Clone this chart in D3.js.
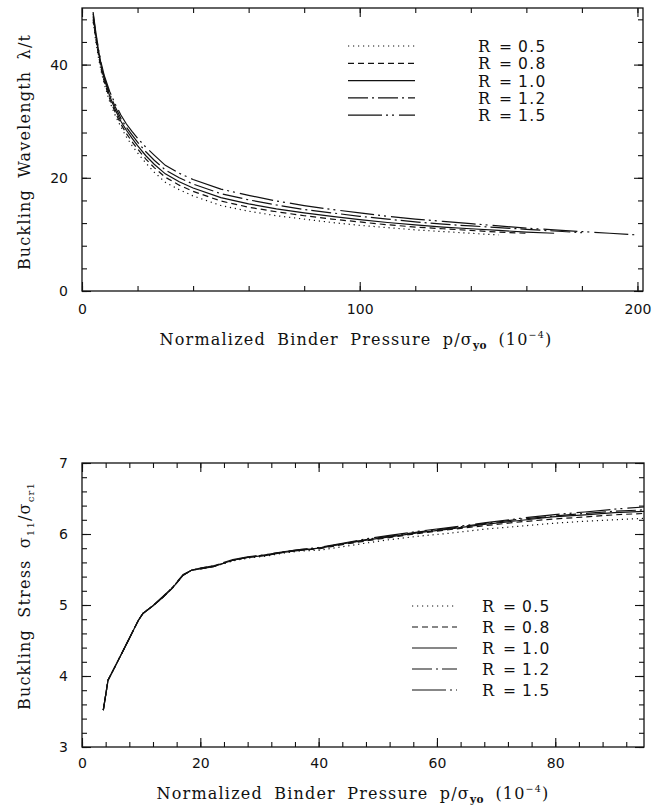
<!DOCTYPE html>
<html><head><meta charset="utf-8">
<script src="https://cdn.jsdelivr.net/npm/d3@7"></script>
<style>
body{margin:0;background:#fff}
svg text{fill:#111}
.ttl{font-family:"DejaVu Serif",serif;font-size:16px;letter-spacing:1.2px;word-spacing:5px}
.num{font-family:"DejaVu Sans",sans-serif;font-size:14px}
.leg{font-family:"DejaVu Sans",sans-serif;font-size:15.5px;letter-spacing:1.3px}
</style>
</head><body>
<svg id="fig" width="656" height="810"></svg>
<script>
// ---- series labels and line styles ----
const ratioLabels = ["0.5", "0.8", "1.0", "1.2", "1.5"];
const dashStyles = ["1.2,3.8", "6,4", null, "20,4,2,4", "34,4,2,4,2,5"];

// ---- panel (a): buckling wavelength vs binder pressure ----
const waveP = [4,5,6,7,8,10,12,14,16,18,20,23,26,30,35,40,50,60,70,80,90,100,110,120,130,140,150,160,170,180,190,200];
const waveR05 = [47.5,44,41,38.6,36.6,33.4,31.0,29.0,27.2,25.7,24.4,22.6,21.0,19.2,17.9,16.8,15.1,14.1,13.3,12.7,12.1,11.6,11.2,10.8,10.5,10.2,9.9];
const waveR08 = [48,44.5,41.5,39,37,33.9,31.5,29.5,27.8,26.4,25.1,23.3,21.8,20.1,18.7,17.6,15.9,14.8,14.0,13.3,12.7,12.2,11.7,11.3,11.0,10.7,10.4,10.2];
const waveR10 = [48.5,45,42,39.5,37.5,34.4,32.0,30.0,28.4,27.0,25.7,23.9,22.4,20.7,19.3,18.2,16.5,15.4,14.5,13.8,13.2,12.6,12.1,11.7,11.3,11.0,10.7,10.4,10.2];
const waveR12 = [49,45.3,42.3,39.8,37.8,34.8,32.5,30.5,28.9,27.6,26.3,24.6,23.1,21.4,20.0,18.9,17.2,16.1,15.2,14.4,13.8,13.2,12.7,12.2,11.8,11.5,11.2,10.9,10.6,10.3];
const waveR15 = [49.3,45.6,42.6,40.1,38.1,35.2,33.0,31.1,29.5,28.2,27.0,25.4,24.0,22.2,20.8,19.7,18.0,16.9,15.9,15.1,14.4,13.8,13.2,12.7,12.3,11.9,11.5,11.1,10.8,10.5,10.2,9.9];
const waveTicks = [0, 100, 200];
const waveYTicks = [0, 20, 40];

// ---- panel (b): buckling stress vs binder pressure ----
const stressP = [3.6,4.4,6,8,9.5,10.3,12,13.7,15.4,17.1,18.5,20,22.2,25.5,28,31.2,34,36.8,40,44,48.6,52,57,62,68.3,74,79.5,85,90,95];
const stressR05 = [3.52,3.94,4.20,4.53,4.78,4.88,4.99,5.11,5.25,5.42,5.49,5.51,5.54,5.62,5.66,5.69,5.73,5.76,5.77,5.82,5.88,5.92,5.97,6.01,6.07,6.11,6.15,6.18,6.20,6.22];
const stressR08 = [3.52,3.94,4.20,4.53,4.78,4.88,4.99,5.11,5.25,5.42,5.49,5.51,5.54,5.63,5.67,5.70,5.74,5.77,5.79,5.85,5.91,5.95,6.01,6.06,6.12,6.17,6.21,6.24,6.27,6.29];
const stressR10 = [3.52,3.94,4.20,4.53,4.78,4.88,4.99,5.11,5.25,5.42,5.49,5.51,5.54,5.63,5.67,5.70,5.74,5.77,5.80,5.86,5.92,5.96,6.02,6.07,6.14,6.19,6.24,6.27,6.30,6.32];
const stressR12 = [3.52,3.94,4.20,4.53,4.78,4.88,4.99,5.12,5.26,5.42,5.49,5.52,5.55,5.63,5.67,5.71,5.75,5.78,5.80,5.86,5.93,5.97,6.03,6.08,6.15,6.21,6.25,6.29,6.32,6.34];
const stressR15 = [3.52,3.94,4.20,4.53,4.78,4.88,4.99,5.12,5.26,5.43,5.49,5.52,5.55,5.64,5.68,5.71,5.75,5.78,5.81,5.87,5.94,5.98,6.04,6.09,6.16,6.22,6.27,6.31,6.35,6.38];
const stressTicks = [0, 20, 40, 60, 80];
const stressYTicks = [3, 4, 5, 6, 7];

const svg = d3.select("#fig");

function drawPanel(cfg) {
  const x = d3.scaleLinear().domain(cfg.xDomain).range([cfg.left, cfg.right]);
  const y = d3.scaleLinear().domain(cfg.yDomain).range([cfg.bottom, cfg.top]);
  const g = svg.append("g");
  const axisStyle = sel => {
    sel.select(".domain").remove();
    sel.selectAll("line").attr("stroke", "#111").attr("stroke-width", 1.1);
    sel.selectAll("text").attr("class", "num").attr("font-size", null).attr("font-family", null);
  };
  const minorX = d3.range(cfg.xDomain[0], cfg.xDomain[1] + 1e-9, cfg.xMinor);
  const minorY = d3.range(cfg.yDomain[0], cfg.yDomain[1] + 1e-9, cfg.yMinor);
  // minor ticks, all four sides, pointing inward
  g.append("g").attr("transform", `translate(0,${cfg.bottom})`)
    .call(d3.axisBottom(x).tickValues(minorX).tickSize(-5).tickFormat("")).call(axisStyle);
  g.append("g").attr("transform", `translate(0,${cfg.top})`)
    .call(d3.axisTop(x).tickValues(minorX).tickSize(-5).tickFormat("")).call(axisStyle);
  g.append("g").attr("transform", `translate(${cfg.left},0)`)
    .call(d3.axisLeft(y).tickValues(minorY).tickSize(-5).tickFormat("")).call(axisStyle);
  g.append("g").attr("transform", `translate(${cfg.right},0)`)
    .call(d3.axisRight(y).tickValues(minorY).tickSize(-5).tickFormat("")).call(axisStyle);
  // major ticks with labels
  g.append("g").attr("transform", `translate(0,${cfg.bottom})`)
    .call(d3.axisBottom(x).tickValues(cfg.xTicks).tickSizeInner(-9).tickSizeOuter(0).tickPadding(cfg.xPad).tickFormat(d3.format("d")))
    .call(axisStyle);
  g.append("g").attr("transform", `translate(0,${cfg.top})`)
    .call(d3.axisTop(x).tickValues(cfg.xTicks).tickSize(-9).tickFormat("")).call(axisStyle);
  g.append("g").attr("transform", `translate(${cfg.left},0)`)
    .call(d3.axisLeft(y).tickValues(cfg.yTicks).tickSizeInner(-9).tickSizeOuter(0).tickPadding(14).tickFormat(d3.format("d")))
    .call(axisStyle);
  g.append("g").attr("transform", `translate(${cfg.right},0)`)
    .call(d3.axisRight(y).tickValues(cfg.yTicks).tickSize(-9).tickFormat("")).call(axisStyle);
  // frame
  g.append("rect").attr("x", cfg.left).attr("y", cfg.top)
    .attr("width", cfg.right - cfg.left).attr("height", cfg.bottom - cfg.top)
    .attr("fill", "none").attr("stroke", "#111").attr("stroke-width", 1.3);
  // curves
  const line = d3.line().x(d => x(d[0])).y(d => y(d[1])).curve(d3.curveLinear);
  cfg.series.forEach((vals, i) => {
    const pts = vals.map((v, j) => [cfg.xs[j], v]);
    g.append("path").attr("d", line(pts)).attr("fill", "none")
      .attr("stroke", "#111").attr("stroke-width", 1.2)
      .attr("stroke-dasharray", dashStyles[i]);
  });
  // legend
  const L = cfg.legend;
  ratioLabels.forEach((lab, i) => {
    const yy = L.y + i * L.dy;
    g.append("line").attr("x1", L.x1).attr("x2", L.x2).attr("y1", yy).attr("y2", yy)
      .attr("stroke", "#111").attr("stroke-width", 1.2).attr("stroke-dasharray", dashStyles[i]);
    g.append("text").attr("class", "ttl").attr("x", L.tx).attr("y", yy + 6).text("R");
    g.append("text").attr("class", "leg").attr("x", L.tx + 21).attr("y", yy + 6).text("=");
    g.append("text").attr("class", "leg").attr("x", L.tx + 40).attr("y", yy + 6).text(lab);
  });
  return {x, y};
}

function xTitle(cx, yb) {
  const t = svg.append("text").attr("class", "ttl").attr("x", cx).attr("y", yb).attr("text-anchor", "middle");
  t.append("tspan").text("Normalized Binder Pressure p/\u03c3");
  t.append("tspan").attr("font-size", "10.5px").attr("font-weight", "bold").attr("letter-spacing", "0.5px").attr("dy", 4).text("yo");
  t.append("tspan").attr("dy", -4).text(" (10");
  t.append("tspan").attr("font-size", "9.5px").attr("dy", -7).text("\u22124");
  t.append("tspan").attr("dy", 7).text(")");
}

drawPanel({
  left: 82, right: 643, top: 8, bottom: 291,
  xDomain: [0, 202], yDomain: [0, 50], xMinor: 20, yMinor: 4,
  xTicks: waveTicks, yTicks: waveYTicks, xs: waveP, xPad: 13,
  series: [waveR05, waveR08, waveR10, waveR12, waveR15],
  legend: {x1: 348, x2: 415, y: 46, dy: 17.3, tx: 478}
});
drawPanel({
  left: 82, right: 644, top: 463, bottom: 747,
  xDomain: [0, 95], yDomain: [3, 7], xMinor: 4, yMinor: 0.2,
  xTicks: stressTicks, yTicks: stressYTicks, xs: stressP, xPad: 11,
  series: [stressR05, stressR08, stressR10, stressR12, stressR15],
  legend: {x1: 412, x2: 457, y: 606, dy: 21, tx: 482}
});

xTitle(356, 345);
xTitle(353, 799);

// y titles
const yt1 = svg.append("text").attr("class", "ttl").attr("text-anchor", "middle")
  .attr("word-spacing", "7px")
  .attr("transform", "translate(30,152) rotate(-90)");
yt1.text("Buckling Wavelength \u03bb/t");

const yt2 = svg.append("text").attr("class", "ttl").attr("text-anchor", "middle")
  .attr("word-spacing", "7px")
  .attr("transform", "translate(30,596) rotate(-90)");
yt2.append("tspan").text("Buckling Stress \u03c3");
yt2.append("tspan").attr("font-size", "10px").attr("dy", 4).text("11");
yt2.append("tspan").attr("dy", -4).text("/\u03c3");
yt2.append("tspan").attr("font-size", "10px").attr("dy", 4).text("cr1");
</script>
</body></html>
